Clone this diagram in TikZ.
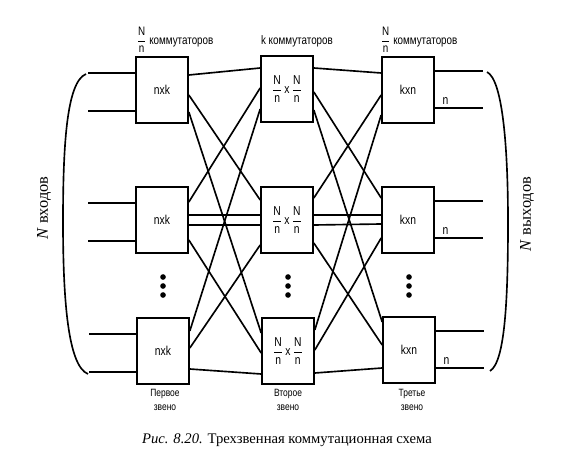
\documentclass[tikz,border=0pt]{standalone}
\usepackage{fontspec}
\setmainfont{Liberation Serif}
\newfontfamily\drawfont[FakeStretch=0.8]{Liberation Sans}
\usetikzlibrary{calc}
\newcommand{\Nn}{\displaystyle\frac{\mbox{N}}{\mbox{n}}}
\begin{document}
\begin{tikzpicture}[x=0.03cm,y=-0.03cm,line width=1.4pt,
  sw/.style={draw, minimum width=1.56cm, minimum height=1.98cm, inner sep=0pt, font=\drawfont\fontsize{11}{12}\selectfont},
  lbl/.style={font=\drawfont\fontsize{10.5}{12}\selectfont},
  stagelbl/.style={font=\drawfont\fontsize{9}{12}\selectfont, align=center}]
\useasboundingbox (0,0) rectangle (566,459);
% first stage
\node[sw] (s11) at (162,90){nxk};
\node[sw] (s12) at (162,220){nxk};
\node[sw] (s13) at (163,351){nxk};
% second stage
\node[sw] (s21) at (287,89){$\Nn\mbox{\,x\,}\Nn$};
\node[sw] (s22) at (287,220){$\Nn\mbox{\,x\,}\Nn$};
\node[sw] (s23) at (288,351){$\Nn\mbox{\,x\,}\Nn$};
% third stage
\node[sw] (s31) at (408,90){kxn};
\node[sw] (s32) at (408,220){kxn};
\node[sw] (s33) at (409,350){kxn};
% links 1-2
\foreach \a/\p/\b/\q in {1/-15/1/-21, 1/5/2/-20, 1/22/3/-18, 2/-18/1/-1, 2/-5/2/-5, 2/5/2/5, 2/20/3/2, 3/-20/1/20, 3/-3/2/25, 3/18/3/23}
  \draw ($(s1\a.east)+(0,\p)$) -- ($(s2\b.west)+(0,\q)$);
% links 2-3
\foreach \a/\p/\b/\q in {1/-21/1/-17, 1/3/2/-22, 1/21/3/-28, 2/-22/1/5, 2/-5/2/-5, 2/5/2/4, 2/23/3/-5, 3/-21/1/25, 3/-1/2/18, 3/22/3/18}
  \draw ($(s2\a.east)+(0,\p)$) -- ($(s3\b.west)+(0,\q)$);
% inputs and outputs
\foreach \r in {1,2,3}{
  \draw ($(s1\r.west)+(0,-17)$) -- ++(-47,0);
  \draw ($(s1\r.west)+(0,21)$) -- ++(-47,0);
  \draw ($(s3\r.east)+(0,-19)$) -- ++(48,0);
  \draw ($(s3\r.east)+(0,18)$) -- node[pos=0.22, above, font=\drawfont\fontsize{11}{12}\selectfont, inner sep=2pt]{n} ++(48,0);
}
% dots
\foreach \x in {163,288,409}
  \foreach \y in {277,286,295}
    \fill (\x,\y) circle (2.4pt);
% brackets
\draw (86,74) .. controls (66,82) and (63,150) .. (63,222) .. controls (63,300) and (68,366) .. (88,374);
\draw (487,72) .. controls (503,80) and (508,150) .. (508,222) .. controls (508,300) and (505,362) .. (490,371);
\node[rotate=90, font=\fontsize{14}{16}\selectfont] (nin) at (44,208) {\textit{N} входов};
\node[rotate=90, font=\fontsize{14}{16}\selectfont] (nout) at (527,214) {\textit{N} выходов};
% labels
\node[lbl] (t1) at (175,40) {$\Nn$ коммутаторов};
\node[lbl] (t2) at (297,41) {k коммутаторов};
\node[lbl] (t3) at (419,40) {$\Nn$ коммутаторов};
\node[stagelbl] (b1) at (165,400) {Первое\\звено};
\node[stagelbl] (b2) at (288,400) {Второе\\звено};
\node[stagelbl] (b3) at (412,400) {Третье\\звено};
\node[font=\fontsize{12.5}{15}\selectfont] (cap) at (287,440) {\textit{Рис. 8.20.} Трехзвенная коммутационная схема};
\end{tikzpicture}
\end{document}
